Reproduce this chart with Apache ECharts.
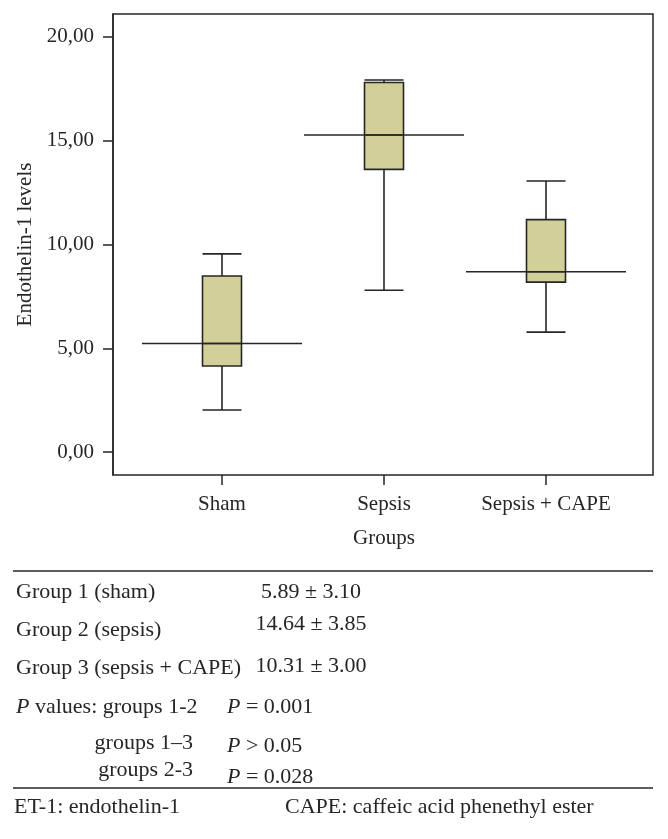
<!DOCTYPE html>
<html>
<head>
<meta charset="utf-8">
<script src="https://cdn.jsdelivr.net/npm/echarts@6/dist/echarts.min.js"></script>
<style>
html,body{margin:0;padding:0;background:#fff;}
#chart{width:668px;height:839px;}
</style>
</head>
<body>
<div id="chart"></div>
<script>
// ---- data ----
var categories = ['Sham', 'Sepsis', 'Sepsis + CAPE'];
// [lower whisker, Q1, median, Q3, upper whisker]
var boxLow    = [2.03, 7.80, 5.78];
var boxQ1     = [4.15, 13.62, 8.19];
var boxMedian = [5.23, 15.27, 8.69];
var boxQ3     = [8.48, 17.80, 11.20];
var boxHigh   = [9.55, 17.92, 13.06];
var yTicks = [0, 5, 10, 15, 20];

var groupLabels = ['Group 1 (sham)', 'Group 2 (sepsis)', 'Group 3 (sepsis + CAPE)'];
var groupMeans = [5.89, 14.64, 10.31];
var groupSDs = [3.10, 3.85, 3.00];
var pGroups = ['groups 1-2', 'groups 1\u20133', 'groups 2-3'];
var pOps = ['=', '>', '='];
var pVals = ['0.001', '0.05', '0.028'];
var footLeft = 'ET-1: endothelin-1';
var footRight = 'CAPE: caffeic acid phenethyl ester';

// ---- chart ----
var FONT = 'Liberation Serif';
var ink = '#262626';
var chart = echarts.init(document.getElementById('chart'), null, {renderer: 'canvas'});

var boxData = categories.map(function (c, i) {
  return [boxLow[i], boxQ1[i], boxMedian[i], boxQ3[i], boxHigh[i]];
});
var medData = categories.map(function (c, i) { return [i, boxMedian[i]]; });

function fmtComma(v) { return v.toFixed(2).replace('.', ','); }

var rich = {
  i: {fontFamily: FONT, fontSize: 22, fontStyle: 'italic', fill: ink, color: ink},
  n: {fontFamily: FONT, fontSize: 22, fill: ink, color: ink}
};
function txt(text, x, y, align, isRich) {
  var st = {
    text: text, x: x, y: y,
    font: '22px "' + FONT + '"',
    fill: ink,
    textAlign: align || 'left',
    textVerticalAlign: 'middle'
  };
  if (isRich) st.rich = rich;
  return {type: 'text', style: st, silent: true};
}

var graphics = [];
graphics.push({type: 'line', shape: {x1: 13, y1: 571, x2: 653, y2: 571}, style: {stroke: ink, lineWidth: 1.5}});
graphics.push({type: 'line', shape: {x1: 13, y1: 788, x2: 653, y2: 788}, style: {stroke: ink, lineWidth: 1.5}});
var labelYs = [592, 630, 668];
var valueYs = [592, 624, 666];
groupLabels.forEach(function (g, i) {
  graphics.push(txt(g, 16, labelYs[i], 'left'));
  graphics.push(txt(groupMeans[i].toFixed(2) + ' \u00b1 ' + groupSDs[i].toFixed(2), 311, valueYs[i], 'center'));
});
var pLabYs = [707, 743, 770];
var pValYs = [707, 746, 777];
pGroups.forEach(function (g, i) {
  if (i === 0) {
    graphics.push(txt('{i|P}{n| values: ' + g + '}', 16, pLabYs[i], 'left', true));
  } else {
    graphics.push(txt(g, 193, pLabYs[i], 'right'));
  }
  graphics.push(txt('{i|P}{n| ' + pOps[i] + ' ' + pVals[i] + '}', 227, pValYs[i], 'left', true));
});
graphics.push(txt(footLeft, 14, 807, 'left'));
graphics.push(txt(footRight, 285, 807, 'left'));

var option = {
  animation: false,
  backgroundColor: '#ffffff',
  textStyle: {fontFamily: FONT},
  grid: [
    {left: 113, top: 14, width: 540, height: 461, show: true, borderColor: ink, borderWidth: 1.5, backgroundColor: 'transparent'},
    {left: 141, top: 14, width: 486, height: 461}
  ],
  xAxis: [
    {gridIndex: 0, type: 'value', min: 0, max: 1, show: false},
    {
      gridIndex: 1, type: 'category', data: categories, position: 'bottom',
      axisLine: {show: false, onZero: false},
      axisTick: {show: true, alignWithLabel: true, length: 10, lineStyle: {color: ink, width: 1.5}},
      axisLabel: {fontFamily: FONT, fontSize: 21, color: ink, margin: 19, interval: 0},
      name: 'Groups', nameLocation: 'middle', nameGap: 53,
      nameTextStyle: {fontFamily: FONT, fontSize: 21, color: ink}
    }
  ],
  yAxis: [
    {
      gridIndex: 0, type: 'value', min: -1.1, max: 21.1,
      axisLine: {show: true, onZero: false, lineStyle: {color: ink, width: 1.5}},
      axisTick: {show: true, length: 10, customValues: yTicks, lineStyle: {color: ink, width: 1.5}},
      axisLabel: {customValues: yTicks, formatter: fmtComma, fontFamily: FONT, fontSize: 21, color: ink, margin: 19},
      splitLine: {show: false},
      name: 'Endothelin-1 levels', nameLocation: 'middle', nameGap: 76,
      nameTextStyle: {fontFamily: FONT, fontSize: 21, color: ink}
    },
    {gridIndex: 1, type: 'value', min: -1.1, max: 21.1, show: false}
  ],
  series: [
    {
      type: 'boxplot', xAxisIndex: 1, yAxisIndex: 1,
      data: boxData,
      boxWidth: [39, 39],
      itemStyle: {color: '#d3cf99', borderColor: ink, borderWidth: 1.6},
      silent: true
    },
    {
      type: 'custom', xAxisIndex: 1, yAxisIndex: 1,
      data: medData, silent: true, z: 5,
      renderItem: function (params, api) {
        var p = api.coord([api.value(0), api.value(1)]);
        var band = api.size([1, 0])[0];
        var half = band * 0.494;
        return {
          type: 'line',
          shape: {x1: p[0] - half, y1: p[1], x2: p[0] + half, y2: p[1]},
          style: {stroke: ink, lineWidth: 1.6}
        };
      }
    }
  ],
  graphic: graphics
};
chart.setOption(option);
</script>
</body>
</html>
